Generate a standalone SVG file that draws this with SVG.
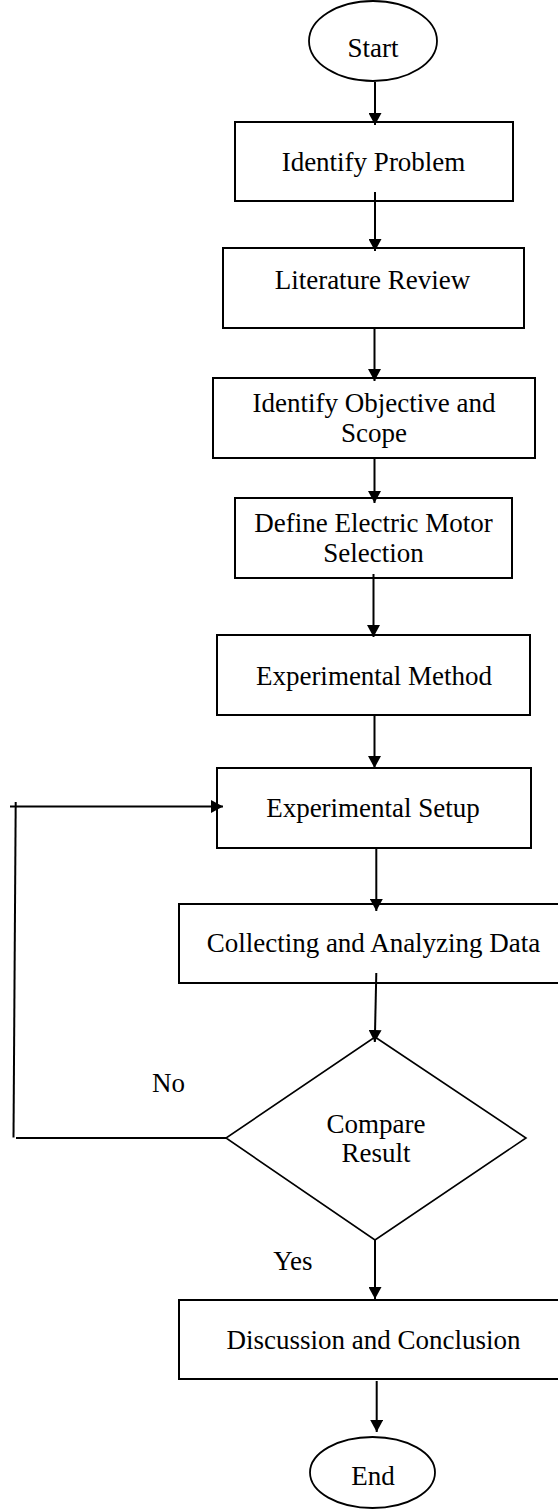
<svg xmlns="http://www.w3.org/2000/svg" width="558" height="1510" viewBox="0 0 558 1510">
<style>
  .box { fill: #ffffff; stroke: #000000; stroke-width: 2; }
  .term { fill: #ffffff; stroke: #000000; stroke-width: 1.8; }
  .dia { fill: #ffffff; stroke: #000000; stroke-width: 1.6; }
  .lbl { font-family: "Liberation Serif", "Times New Roman", serif; font-size: 27px; fill: #000000; text-anchor: middle; }
  .lbls { font-family: "Liberation Serif", "Times New Roman", serif; font-size: 27px; fill: #000000; }
  .edge { fill: none; stroke: #000000; stroke-width: 2; }
  .arr { marker-end: url(#ah); }
</style>
<defs>
  <marker id="ah" markerUnits="userSpaceOnUse" markerWidth="13" markerHeight="13" refX="12" refY="6.5" orient="auto">
    <path d="M0,0 L12,6.5 L0,13 z" fill="#000000"/>
  </marker>
</defs>
<rect width="558" height="1510" fill="#ffffff"/>

<g id="start">
  <ellipse class="term" cx="373" cy="41" rx="64" ry="40"/>
  <text class="lbl" x="373" y="57">Start</text>
</g>
<g id="identify-problem">
  <rect class="box" x="235" y="122" width="278" height="79"/>
  <text class="lbl" x="373.5" y="171">Identify Problem</text>
</g>
<g id="literature-review">
  <rect class="box" x="223" y="248" width="301" height="80"/>
  <text class="lbl" x="372.5" y="288.5">Literature Review</text>
</g>
<g id="objective-scope">
  <rect class="box" x="213" y="378" width="322" height="80"/>
  <text class="lbl" x="374" y="412">Identify Objective and</text>
  <text class="lbl" x="374" y="442">Scope</text>
</g>
<g id="motor-selection">
  <rect class="box" x="235" y="498" width="277" height="80"/>
  <text class="lbl" x="373.5" y="532">Define Electric Motor</text>
  <text class="lbl" x="373.5" y="562">Selection</text>
</g>
<g id="experimental-method">
  <rect class="box" x="217" y="635" width="313" height="80"/>
  <text class="lbl" x="374" y="685">Experimental Method</text>
</g>
<g id="experimental-setup">
  <rect class="box" x="217" y="768" width="314" height="80"/>
  <text class="lbl" x="373" y="817">Experimental Setup</text>
</g>
<g id="collecting-data">
  <rect class="box" x="179" y="904" width="385" height="79"/>
  <text class="lbl" x="373.5" y="952">Collecting and Analyzing Data</text>
</g>
<g id="compare-result">
  <polygon class="dia" points="375,1037 526,1138 375,1240 226,1138"/>
  <text class="lbl" x="376" y="1133">Compare</text>
  <text class="lbl" x="376" y="1162">Result</text>
</g>
<g id="discussion-conclusion">
  <rect class="box" x="179" y="1300" width="385" height="79"/>
  <text class="lbl" x="373.5" y="1348.5">Discussion and Conclusion</text>
</g>
<g id="end">
  <ellipse class="term" cx="372.5" cy="1472.5" rx="62.5" ry="35.5"/>
  <text class="lbl" x="373" y="1485">End</text>
</g>

<g id="connectors">
  <line class="edge arr" x1="375" y1="82" x2="375" y2="125"/>
  <line class="edge arr" x1="375" y1="192" x2="375" y2="251"/>
  <line class="edge arr" x1="374.5" y1="328" x2="374.5" y2="381"/>
  <line class="edge arr" x1="374.5" y1="458" x2="374.5" y2="503"/>
  <line class="edge arr" x1="373.5" y1="574" x2="373.5" y2="637"/>
  <line class="edge arr" x1="374.5" y1="715" x2="374.5" y2="768"/>
  <line class="edge arr" x1="376.3" y1="848" x2="376.3" y2="911"/>
  <line class="edge arr" x1="376.3" y1="973" x2="374.8" y2="1042"/>
  <line class="edge arr" x1="375" y1="1240" x2="375" y2="1299"/>
  <line class="edge arr" x1="376.7" y1="1381" x2="376.7" y2="1432"/>
  <line class="edge" x1="226" y1="1138" x2="16" y2="1138"/>
  <line class="edge" x1="13.5" y1="1137.5" x2="15.7" y2="802"/>
  <line class="edge arr" x1="10" y1="806.5" x2="223" y2="806.5"/>
  <text class="lbls" x="152" y="1092">No</text>
  <text class="lbls" x="273.3" y="1270">Yes</text>
</g>
</svg>
